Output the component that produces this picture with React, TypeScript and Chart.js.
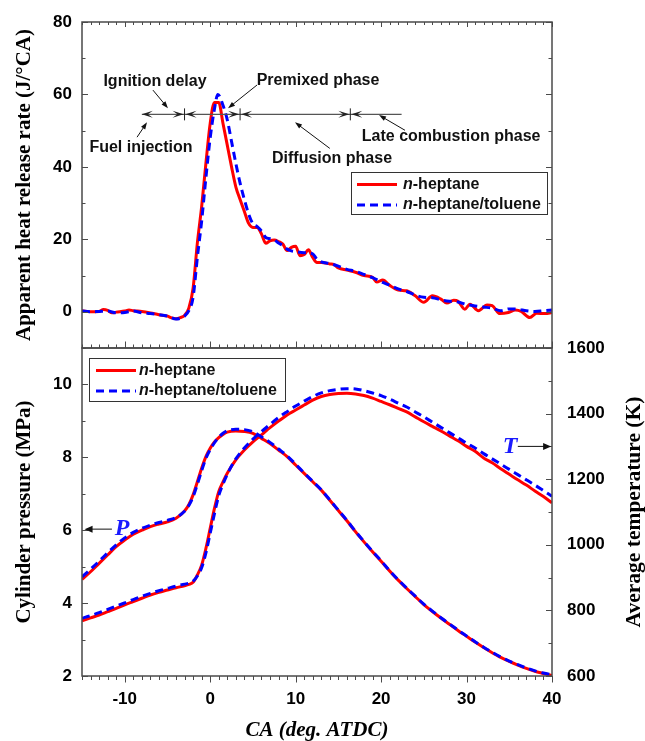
import React, { useEffect, useRef } from 'react';
import { Chart, registerables } from 'chart.js';

Chart.register(...registerables);

// ---------- Data: apparent heat release rate (J/°CA) ----------
const heptaneHrrCA = [-15, -14, -13, -12.5, -12, -11.5, -11, -10, -9.5, -9, -8, -7, -6, -5, -4.5, -4, -3.5, -3, -2.5, -2, -1.5, -1, -0.5, 0, 0.5, 1, 1.5, 2, 2.5, 3, 3.5, 4, 4.5, 5, 5.5, 6, 6.5, 7, 7.5, 8, 8.5, 9, 9.5, 10, 10.5, 11, 11.5, 12, 12.5, 13, 14, 14.5, 15, 16, 17, 18, 19, 19.5, 20.2, 21, 22, 23, 24, 25, 26, 27, 27.7, 28.5, 29, 29.8, 30.4, 31.4, 32.4, 33, 33.9, 34.9, 35.7, 36.4, 37.4, 38.2, 39.2, 40];
const heptaneHrr = [0.3, 0.0, 0.1, 0.6, 0.4, -0.3, -0.1, 0.2, 0.5, 0.3, 0.1, -0.3, -0.8, -1.2, -1.7, -1.9, -1.6, -1.0, 1.0, 6.5, 19, 29, 41, 52, 57.8, 57.8, 52, 46, 40, 34.5, 31, 27.7, 24.4, 23.3, 23.3, 21.5, 18.9, 19.6, 19.8, 19.4, 18.7, 16.9, 17.8, 18.1, 15.5, 15.8, 17.1, 15.0, 13.6, 13.6, 13.2, 13.0, 12.1, 11.5, 10.9, 10.0, 9.5, 8.2, 8.8, 7.3, 6.0, 5.8, 4.4, 2.6, 4.4, 3.5, 2.4, 3.2, 2.9, 0.7, 2.1, 0.3, 1.9, 1.7, -0.5, -0.2, 0.5, 0.1, -1.6, -0.4, -0.5, -0.2];

const tolueneHrrCA = [-15, -14, -13, -12, -11, -10, -9, -8, -7, -6, -5, -4, -3.5, -3, -2.5, -2, -1.5, -1, -0.5, 0, 0.5, 0.9, 1.5, 2, 2.5, 3, 3.5, 4, 4.5, 5, 5.5, 6, 6.5, 7, 7.5, 8, 8.5, 9, 9.5, 10, 11, 12, 12.5, 13, 14, 15, 16, 17, 18, 19, 20, 21, 22, 23, 24, 25, 26, 27, 28, 29, 30, 31, 32, 33, 34, 35, 36, 37, 38, 39, 40];
const tolueneHrr = [0.2, 0.0, 0.1, 0.2, -0.3, -0.2, 0.2, -0.3, -0.5, -0.8, -1.2, -2.0, -1.8, -1.2, 0.3, 4.0, 15, 25, 37, 48, 56, 60, 57, 53, 47, 41, 35.5, 31, 27, 24.3, 23.5, 22.3, 20.5, 20.2, 19.9, 19, 18.3, 17.3, 16.8, 16.6, 16.3, 16.0, 14.5, 13.8, 13.3, 12.6, 11.7, 11.2, 10.3, 9.4, 8.3, 7.3, 6.3, 5.6, 4.6, 4.0, 3.9, 3.3, 2.9, 2.7, 2.0, 1.6, 1.3, 1.0, 0.3, 0.8, 0.7, 0.3, 0.1, 0.3, 0.5];

// ---------- Data: cylinder pressure (MPa) and average temperature (K) ----------
const cylCA = [-15, -14, -13, -12, -11, -10, -9, -8, -7, -6, -5, -4, -3, -2.5, -2, -1.5, -1, -0.5, 0, 0.5, 1, 1.5, 2, 3, 4, 5, 6, 7, 8, 9, 10, 11, 12, 13, 14, 15, 16, 17, 18, 19, 20, 21, 22, 23, 24, 25, 26, 27, 28, 29, 30, 31, 32, 33, 34, 35, 36, 37, 38, 39, 40];
const heptanePressure = [4.65, 4.86, 5.09, 5.32, 5.55, 5.73, 5.89, 6.00, 6.10, 6.17, 6.23, 6.33, 6.53, 6.70, 6.97, 7.33, 7.70, 8.02, 8.25, 8.42, 8.54, 8.63, 8.69, 8.72, 8.71, 8.66, 8.52, 8.38, 8.20, 8.02, 7.79, 7.56, 7.33, 7.10, 6.82, 6.54, 6.26, 5.96, 5.68, 5.41, 5.15, 4.88, 4.63, 4.40, 4.18, 3.96, 3.77, 3.59, 3.42, 3.25, 3.09, 2.93, 2.78, 2.64, 2.51, 2.40, 2.30, 2.21, 2.13, 2.07, 2.01];
const toluenePressure = [4.72, 4.93, 5.15, 5.38, 5.60, 5.79, 5.94, 6.05, 6.14, 6.21, 6.27, 6.35, 6.52, 6.68, 6.92, 7.26, 7.63, 7.97, 8.21, 8.40, 8.55, 8.66, 8.73, 8.77, 8.76, 8.70, 8.56, 8.41, 8.23, 8.04, 7.81, 7.57, 7.34, 7.11, 6.83, 6.55, 6.27, 5.97, 5.69, 5.42, 5.16, 4.89, 4.64, 4.41, 4.19, 3.97, 3.78, 3.60, 3.43, 3.26, 3.10, 2.94, 2.79, 2.65, 2.52, 2.41, 2.31, 2.22, 2.14, 2.08, 2.03];
const heptaneTemp = [768, 777, 786, 796, 806, 817, 827, 837, 847, 855, 862, 869, 875, 879, 886, 908, 938, 989, 1050, 1111, 1162, 1192, 1218, 1259, 1289, 1314, 1335, 1357, 1377, 1396, 1411, 1426, 1441, 1452, 1458, 1461, 1462, 1460, 1455, 1447, 1437, 1427, 1416, 1405, 1390, 1375, 1361, 1347, 1332, 1317, 1300, 1285, 1265, 1250, 1232, 1215, 1198, 1182, 1164, 1147, 1128];
const tolueneTemp = [776, 784, 793, 803, 813, 823, 833, 843, 852, 860, 867, 874, 880, 883, 889, 905, 930, 975, 1035, 1095, 1150, 1185, 1215, 1262, 1295, 1322, 1345, 1367, 1388, 1406, 1423, 1438, 1452, 1463, 1470, 1474, 1476, 1475, 1470, 1463, 1455, 1444, 1432, 1420, 1405, 1390, 1374, 1358, 1342, 1326, 1310, 1295, 1278, 1262, 1246, 1230, 1214, 1198, 1182, 1165, 1148];

const seriesLabels = ['n-heptane', 'n-heptane/toluene'];

// ---------- Tick labels ----------
const caTicks = [-10, 0, 10, 20, 30, 40];
const hrrTicks = [0, 20, 40, 60, 80];
const pressureTicks = [2, 4, 6, 8, 10];
const tempTicks = [600, 800, 1000, 1200, 1400, 1600];

// ---------- Styles ----------
const RED = '#ff0000';
const BLUE = '#0000ff';
const LABEL_BLUE = '#1a1aff';
const FRAME = '#4a4a4a';
const DASH = [8, 5];
const SANS = '"Liberation Sans", Arial, sans-serif';
const SERIF = '"Liberation Serif", "Times New Roman", serif';
const TICK_FONT = { family: SANS, size: 17, weight: 'bold' as const };

// ---------- Annotation placements (data units) ----------
const phaseLine = { level: 54.5, start: -8, end: 22.4, bounds: [-3, 3.5, 16.4] };
const phaseNotes = [
  { text: 'Ignition delay', at: [-6.46, 63.5], from: [-6.7, 61.2], to: [-4.94, 56.2] },
  { text: 'Premixed phase', at: [12.62, 63.7], from: [5.48, 62.6], to: [2.09, 56.2] },
  { text: 'Fuel injection', at: [-8.1, 45.4], from: [-8.56, 48.2], to: [-7.39, 52.3] },
  { text: 'Diffusion phase', at: [14.26, 42.4], from: [14.0, 45.1], to: [9.93, 52.3] },
  { text: 'Late combustion phase', at: [28.2, 48.4], from: [22.8, 50.1], to: [19.76, 54.3] },
];
const pNote = { text: 'P', at: [-10.3, 6.03], from: -11.5, to: -14.7 };
const tNote = { text: 'T', at: [35.1, 1300], from: 36.0, to: 39.9 };

function zip(xs: number[], ys: number[]) {
  return xs.map((x, i) => ({ x, y: ys[i] }));
}

function arrowHead(ctx: CanvasRenderingContext2D, x1: number, y1: number, x2: number, y2: number, len = 7, half = 3) {
  const ang = Math.atan2(y2 - y1, x2 - x1);
  ctx.beginPath();
  ctx.moveTo(x2, y2);
  ctx.lineTo(x2 - len * Math.cos(ang) + half * Math.sin(ang), y2 - len * Math.sin(ang) - half * Math.cos(ang));
  ctx.lineTo(x2 - len * Math.cos(ang) - half * Math.sin(ang), y2 - len * Math.sin(ang) + half * Math.cos(ang));
  ctx.closePath();
  ctx.fill();
}

function arrow(ctx: CanvasRenderingContext2D, x1: number, y1: number, x2: number, y2: number, len = 7, half = 3) {
  const ang = Math.atan2(y2 - y1, x2 - x1);
  ctx.beginPath();
  ctx.moveTo(x1, y1);
  ctx.lineTo(x2 - (len - 1) * Math.cos(ang), y2 - (len - 1) * Math.sin(ang));
  ctx.stroke();
  arrowHead(ctx, x1, y1, x2, y2, len, half);
}

function chevron(ctx: CanvasRenderingContext2D, x: number, y: number, dir: number) {
  const L = 11, h = 3.5;
  ctx.beginPath();
  ctx.moveTo(x, y);
  ctx.lineTo(x - dir * L, y - h);
  ctx.lineTo(x - dir * L * 0.55, y);
  ctx.lineTo(x - dir * L, y + h);
  ctx.closePath();
  ctx.fill();
}

function drawLegend(ctx: CanvasRenderingContext2D, left: number, top: number, width: number, height: number, lineStart: number, textStart: number) {
  ctx.save();
  ctx.fillStyle = '#fff';
  ctx.fillRect(left, top, width, height);
  ctx.strokeStyle = '#333';
  ctx.lineWidth = 1;
  ctx.strokeRect(left + 0.5, top + 0.5, width, height);
  const rows = [
    { color: RED, dash: [] as number[], label: seriesLabels[0] },
    { color: BLUE, dash: DASH, label: seriesLabels[1] },
  ];
  rows.forEach((r, i) => {
    const ry = top + 12.5 + i * 20.5;
    ctx.strokeStyle = r.color;
    ctx.lineWidth = 3;
    ctx.setLineDash(r.dash);
    ctx.beginPath();
    ctx.moveTo(left + lineStart, ry);
    ctx.lineTo(left + lineStart + 40, ry);
    ctx.stroke();
    ctx.setLineDash([]);
    ctx.fillStyle = '#111';
    ctx.textBaseline = 'middle';
    ctx.textAlign = 'left';
    ctx.font = `italic bold 16px ${SANS}`;
    const first = r.label.charAt(0);
    ctx.fillText(first, left + textStart, ry);
    const w = ctx.measureText(first).width;
    ctx.font = `bold 16px ${SANS}`;
    ctx.fillText(r.label.slice(1), left + textStart + w, ry);
  });
  ctx.restore();
}

function verticalTitle(ctx: CanvasRenderingContext2D, text: string, x: number, y: number, font: string) {
  ctx.save();
  ctx.translate(x, y);
  ctx.rotate(-Math.PI / 2);
  ctx.font = font;
  ctx.fillStyle = '#000';
  ctx.textAlign = 'center';
  ctx.textBaseline = 'middle';
  ctx.fillText(text, 0, 0);
  ctx.restore();
}

const topDecor = {
  id: 'topDecor',
  afterDraw(chart: any) {
    const { ctx, chartArea: a, scales } = chart;
    const xs = scales.x, ys = scales.y;
    ctx.save();
    ctx.strokeStyle = FRAME;
    ctx.lineWidth = 1.5;
    ctx.strokeRect(a.left, a.top, a.right - a.left, a.bottom - a.top);
    ctx.lineWidth = 1;
    ctx.beginPath();
    for (let v = -10; v <= 80; v += 10) {
      const py = Math.round(ys.getPixelForValue(v)) + 0.5;
      const L = v % 20 === 0 ? 6 : 3.5;
      ctx.moveTo(a.left, py); ctx.lineTo(a.left + L, py);
      ctx.moveTo(a.right, py); ctx.lineTo(a.right - L, py);
    }
    for (let c = -15; c <= 40; c++) {
      const px = Math.round(xs.getPixelForValue(c)) + 0.5;
      const L = c % 10 === 0 ? 6.5 : 3.5;
      ctx.moveTo(px, a.top); ctx.lineTo(px, a.top + (c % 10 === 0 ? 5 : 3));
      ctx.moveTo(px, a.bottom); ctx.lineTo(px, a.bottom - L);
    }
    ctx.stroke();

    verticalTitle(ctx, 'Apparent heat release rate (J/°CA)', a.left - 57, (a.top + a.bottom) / 2, `bold 21px ${SERIF}`);

    // phase line
    const ly = ys.getPixelForValue(phaseLine.level);
    const lx0 = xs.getPixelForValue(phaseLine.start);
    const lx1 = xs.getPixelForValue(phaseLine.end);
    ctx.strokeStyle = '#555';
    ctx.lineWidth = 1.2;
    ctx.beginPath();
    ctx.moveTo(lx0, ly); ctx.lineTo(lx1, ly);
    ctx.stroke();
    ctx.fillStyle = '#222';
    chevron(ctx, lx0, ly, -1);
    ctx.strokeStyle = '#222';
    ctx.lineWidth = 1;
    phaseLine.bounds.forEach((b) => {
      const bx = xs.getPixelForValue(b);
      ctx.beginPath();
      ctx.moveTo(bx, ly - 6); ctx.lineTo(bx, ly + 6);
      ctx.stroke();
      chevron(ctx, bx - 1, ly, 1);
      chevron(ctx, bx + 1, ly, -1);
    });

    // notes
    ctx.font = `bold 16px ${SANS}`;
    ctx.textAlign = 'center';
    ctx.textBaseline = 'middle';
    phaseNotes.forEach((n) => {
      ctx.fillStyle = '#111';
      ctx.fillText(n.text, xs.getPixelForValue(n.at[0]), ys.getPixelForValue(n.at[1]));
      ctx.strokeStyle = '#111';
      ctx.fillStyle = '#111';
      ctx.lineWidth = 1;
      arrow(ctx, xs.getPixelForValue(n.from[0]), ys.getPixelForValue(n.from[1]), xs.getPixelForValue(n.to[0]), ys.getPixelForValue(n.to[1]), 7, 2.5);
    });
    ctx.restore();

    drawLegend(ctx, a.right - 201, a.top + 150, 196, 42, 6, 52);
  },
};

const bottomDecor = {
  id: 'bottomDecor',
  afterDraw(chart: any) {
    const { ctx, chartArea: a, scales } = chart;
    const xs = scales.x, yp = scales.yP, yt = scales.yT;
    ctx.save();
    ctx.strokeStyle = FRAME;
    ctx.lineWidth = 1.5;
    ctx.strokeRect(a.left, a.top, a.right - a.left, a.bottom - a.top);
    ctx.lineWidth = 1;
    ctx.beginPath();
    for (let v = 2; v <= 11; v += 1) {
      const py = Math.round(yp.getPixelForValue(v)) + 0.5;
      const L = v % 2 === 0 ? 6 : 3.5;
      ctx.moveTo(a.left, py); ctx.lineTo(a.left + L, py);
    }
    for (let v = 600; v <= 1600; v += 100) {
      const py = Math.round(yt.getPixelForValue(v)) + 0.5;
      const L = v % 200 === 0 ? 6 : 3.5;
      ctx.moveTo(a.right, py); ctx.lineTo(a.right - L, py);
    }
    for (let c = -15; c <= 40; c++) {
      const px = Math.round(xs.getPixelForValue(c)) + 0.5;
      const L = c % 10 === 0 ? 6.5 : 4;
      ctx.moveTo(px, a.bottom); ctx.lineTo(px, a.bottom + L);
    }
    ctx.stroke();

    verticalTitle(ctx, 'Cylinder pressure (MPa)', a.left - 57, (a.top + a.bottom) / 2, `bold 21px ${SERIF}`);
    verticalTitle(ctx, 'Average temperature (K)', a.right + 82, (a.top + a.bottom) / 2, `bold 21.5px ${SERIF}`);

    ctx.font = `italic bold 21px ${SERIF}`;
    ctx.fillStyle = '#000';
    ctx.textAlign = 'center';
    ctx.textBaseline = 'middle';
    ctx.fillText('CA (deg. ATDC)', (a.left + a.right) / 2, a.bottom + 55);

    // P and T markers
    ctx.strokeStyle = '#111';
    ctx.fillStyle = '#111';
    ctx.lineWidth = 1;
    const py = yp.getPixelForValue(pNote.at[1]);
    arrow(ctx, xs.getPixelForValue(pNote.from), py, xs.getPixelForValue(pNote.to), py, 8, 3.5);
    const ty = yt.getPixelForValue(tNote.at[1]);
    arrow(ctx, xs.getPixelForValue(tNote.from), ty, xs.getPixelForValue(tNote.to), ty, 8, 3.5);
    ctx.font = `italic bold 24px ${SERIF}`;
    ctx.fillStyle = LABEL_BLUE;
    ctx.fillText(pNote.text, xs.getPixelForValue(pNote.at[0]), py);
    ctx.fillText(tNote.text, xs.getPixelForValue(tNote.at[0]), ty);
    ctx.restore();

    drawLegend(ctx, a.left + 7, a.top + 10, 196, 43, 7, 50);
  },
};

function fixedTicks(values: number[]) {
  return (scale: any) => {
    scale.ticks = values.map((value) => ({ value }));
  };
}

const plainLabel = (v: any) => String(v);

export default function App() {
  const topRef = useRef<HTMLCanvasElement>(null);
  const botRef = useRef<HTMLCanvasElement>(null);

  useEffect(() => {
    const common = {
      responsive: false,
      animation: false as const,
      devicePixelRatio: 1,
      events: [] as any[],
      plugins: { legend: { display: false }, tooltip: { enabled: false } },
      elements: { point: { radius: 0 } },
    };

    const top = new Chart(topRef.current!, {
      type: 'line',
      data: {
        datasets: [
          { label: seriesLabels[1], data: zip(tolueneHrrCA, tolueneHrr), borderColor: BLUE, borderWidth: 3, borderDash: DASH, cubicInterpolationMode: 'monotone', order: 0 },
          { label: seriesLabels[0], data: zip(heptaneHrrCA, heptaneHrr), borderColor: RED, borderWidth: 3, cubicInterpolationMode: 'monotone', order: 1 },
        ],
      },
      options: {
        ...common,
        layout: { padding: { left: 0, top: 22, right: 93, bottom: 393 } },
        scales: {
          x: { type: 'linear', min: -15, max: 40, display: false },
          y: {
            type: 'linear', min: -10, max: 80,
            afterFit: (s: any) => { s.width = 82; },
            afterBuildTicks: fixedTicks(hrrTicks),
            ticks: { font: TICK_FONT, color: '#000', padding: 10, callback: plainLabel },
            grid: { display: false, drawTicks: false },
            border: { display: false },
          },
        },
      },
      plugins: [topDecor],
    } as any);

    const bottom = new Chart(botRef.current!, {
      type: 'line',
      data: {
        datasets: [
          { label: seriesLabels[1], data: zip(cylCA, toluenePressure), yAxisID: 'yP', borderColor: BLUE, borderWidth: 3, borderDash: DASH, cubicInterpolationMode: 'monotone', order: 0 },
          { label: seriesLabels[1], data: zip(cylCA, tolueneTemp), yAxisID: 'yT', borderColor: BLUE, borderWidth: 3, borderDash: DASH, cubicInterpolationMode: 'monotone', order: 0 },
          { label: seriesLabels[0], data: zip(cylCA, heptanePressure), yAxisID: 'yP', borderColor: RED, borderWidth: 3, cubicInterpolationMode: 'monotone', order: 1 },
          { label: seriesLabels[0], data: zip(cylCA, heptaneTemp), yAxisID: 'yT', borderColor: RED, borderWidth: 3, cubicInterpolationMode: 'monotone', order: 1 },
        ],
      },
      options: {
        ...common,
        layout: { padding: { left: 0, top: 348, right: 0, bottom: 0 } },
        scales: {
          x: {
            type: 'linear', min: -15, max: 40, position: 'bottom',
            afterFit: (s: any) => { s.height = 65; },
            afterBuildTicks: fixedTicks(caTicks),
            ticks: { font: TICK_FONT, color: '#000', padding: 13, callback: plainLabel },
            grid: { display: false, drawTicks: false },
            border: { display: false },
          },
          yP: {
            type: 'linear', position: 'left', min: 2, max: 11,
            afterFit: (s: any) => { s.width = 82; },
            afterBuildTicks: fixedTicks(pressureTicks),
            ticks: { font: TICK_FONT, color: '#000', padding: 10, callback: plainLabel },
            grid: { display: false, drawTicks: false },
            border: { display: false },
          },
          yT: {
            type: 'linear', position: 'right', min: 600, max: 1600,
            afterFit: (s: any) => { s.width = 93; },
            afterBuildTicks: fixedTicks(tempTicks),
            ticks: { font: TICK_FONT, color: '#000', padding: 15, callback: plainLabel },
            grid: { display: false, drawTicks: false },
            border: { display: false },
          },
        },
      },
      plugins: [bottomDecor],
    } as any);

    return () => {
      top.destroy();
      bottom.destroy();
    };
  }, []);

  return (
    <div style={{ position: 'fixed', left: 0, top: 0, width: 645, height: 741, background: '#fff' }}>
      <canvas ref={topRef} width={645} height={741} style={{ position: 'absolute', left: 0, top: 0 }} />
      <canvas ref={botRef} width={645} height={741} style={{ position: 'absolute', left: 0, top: 0 }} />
    </div>
  );
}
